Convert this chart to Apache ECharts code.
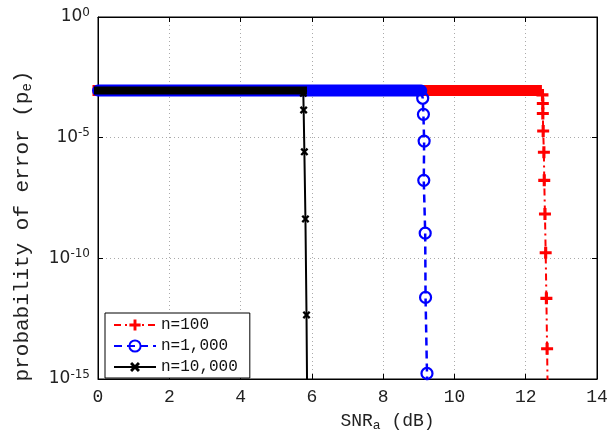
<!DOCTYPE html>
<html>
<head>
<meta charset="utf-8">
<script src="https://cdn.jsdelivr.net/npm/echarts@6/dist/echarts.min.js"></script>
<style>html,body{margin:0;padding:0;background:#fff;}#c{width:611px;height:439px;}</style>
</head>
<body>
<div id="c"></div>
<script>
// ---- data ----
const seriesNames = ['n=100', 'n=1,000', 'n=10,000'];
const xTicks = [0, 2, 4, 6, 8, 10, 12, 14];
const yTickExponents = [-15, -10, -5, 0];

// n=100 : first two points = flat part, rest = fall-off
const n100X = [0, 12.30, 12.44, 12.47, 12.48, 12.48, 12.49, 12.51, 12.52, 12.54, 12.56, 12.58, 12.60, 12.62];
const n100Y = [8.9e-4, 8.9e-4, 8.0e-4, 5.9e-4, 2.6e-4, 1.0e-4, 1.9e-5, 2.5e-6, 1.7e-7, 6.9e-9, 1.7e-10, 2.2e-12, 1.8e-14, 1e-16];
// n=1,000
const n1000X = [0, 9.07, 9.11, 9.13, 9.15, 9.14, 9.18, 9.19, 9.23, 9.25];
const n1000Y = [8.9e-4, 8.9e-4, 4.3e-4, 9.3e-5, 7.2e-6, 1.7e-7, 1.1e-9, 2.4e-12, 1.7e-15, 1e-16];
// n=10,000
const n10000X = [0, 5.75, 5.76, 5.77, 5.79, 5.82, 5.85, 5.87];
const n10000Y = [8.9e-4, 8.9e-4, 6.9e-4, 1.4e-4, 2.6e-6, 4.3e-9, 4.5e-13, 1e-16];

const pairs = (xs, ys) => xs.map((x, i) => [x, ys[i]]);
// drop part: markers hidden on the first `hide` points (they sit inside the flat band)
const dropData = (xs, ys, hide) => pairs(xs.slice(1), ys.slice(1))
  .map((p, i) => i < hide ? {value: p, symbol: 'none'} : p);

const PLUS = 'path://M3.7,0H6.3V3.7H10V6.3H6.3V10H3.7V6.3H0V3.7H3.7Z';
const MONO = 'Liberation Mono';

const chart = echarts.init(document.getElementById('c'), null, {renderer: 'canvas'});

function band(name, xs, ys, color, width, cap, z) {
  return {
    name: name, type: 'line', data: pairs(xs.slice(0, 2), ys.slice(0, 2)),
    symbol: 'none', silent: true, clip: false, z: z,
    lineStyle: {color: color, width: width, cap: cap, type: 'solid'},
    itemStyle: {color: color}
  };
}

const gridLine = {color: '#aaa', type: [1, 3], width: 1};

const option = {
  animation: false,
  backgroundColor: '#fff',
  grid: {left: 98, right: 14, top: 17, bottom: 60, show: true, borderColor: '#000', borderWidth: 1, backgroundColor: 'transparent'},
  legend: {
    data: seriesNames,
    orient: 'vertical', left: 105, top: 313,
    padding: [4, 12, 3, 8], itemGap: 5, itemWidth: 42, itemHeight: 14,
    borderColor: '#000', borderWidth: 1, backgroundColor: '#fff',
    textStyle: {fontFamily: MONO, fontSize: 16, color: '#111'},
    itemTextGap: 5
  },
  xAxis: [{
    type: 'value', min: 0, max: 14, interval: 2, position: 'bottom',
    axisLine: {show: true, onZero: false, lineStyle: {color: '#000', width: 1}},
    axisTick: {show: true, inside: true, length: 5, lineStyle: {color: '#000'}},
    axisLabel: {fontFamily: MONO, fontSize: 18, color: '#222', margin: 9,
      formatter: v => xTicks.indexOf(v) >= 0 ? String(v) : ''},
    splitLine: {show: true, lineStyle: gridLine},
    name: 'SNR{sub|a} (dB)', nameLocation: 'middle', nameGap: 32,
    nameTextStyle: {fontFamily: MONO, fontSize: 18, color: '#222', padding: [0, 0, 0, 80],
      rich: {sub: {fontFamily: MONO, fontSize: 13, color: '#222', verticalAlign: 'bottom', padding: [8, 0, 0, 0]}}}
  }, {
    type: 'value', min: 0, max: 14, interval: 2, position: 'top',
    axisLine: {show: true, onZero: false, lineStyle: {color: '#000'}},
    axisTick: {show: true, inside: true, length: 5, lineStyle: {color: '#000'}},
    axisLabel: {show: false}, splitLine: {show: false}
  }],
  yAxis: [{
    type: 'log', logBase: 10, min: 1e-15, max: 1, interval: 5, position: 'left',
    axisLine: {show: true, onZero: false, lineStyle: {color: '#000', width: 1}},
    axisTick: {show: true, inside: true, length: 5, lineStyle: {color: '#000'}},
    axisLabel: {fontFamily: 'DejaVu Sans', fontSize: 17, color: '#222', margin: 8,
      formatter: v => {
        const e = Math.round(Math.log10(v));
        return yTickExponents.indexOf(e) >= 0 ? '10{sup|' + e + '}' : '';
      },
      rich: {sup: {fontFamily: 'DejaVu Sans', fontSize: 12, color: '#222', verticalAlign: 'top', padding: [0, 0, 9, 0]}}},
    splitLine: {show: true, lineStyle: gridLine},
    minorTick: {show: false},
    name: 'probability of error (p{sub|e})', nameLocation: 'middle', nameGap: 64, nameRotate: 90,
    nameTextStyle: {fontFamily: MONO, fontSize: 21, color: '#222', padding: [0, 56, 0, 0],
      rich: {sub: {fontFamily: MONO, fontSize: 14, color: '#222', verticalAlign: 'bottom', padding: [9, 0, 0, 0]}}}
  }, {
    type: 'log', logBase: 10, min: 1e-15, max: 1, interval: 5, position: 'right',
    axisLine: {show: true, onZero: false, lineStyle: {color: '#000'}},
    axisTick: {show: true, inside: true, length: 5, lineStyle: {color: '#000'}},
    axisLabel: {show: false}, splitLine: {show: false}
  }],
  series: [
    band('band100', n100X, n100Y, '#ff0000', 11, 'square', 2),
    band('band1000', n1000X, n1000Y, '#0000ff', 12, 'round', 3),
    band('band10000', n10000X, n10000Y, '#000000', 8, 'square', 4),
    {
      name: seriesNames[0], type: 'line', z: 5, clip: true,
      data: dropData(n100X, n100Y, 2),
      symbol: PLUS, symbolSize: 12,
      lineStyle: {color: '#ff0000', width: 2, type: [7, 4, 2, 4]},
      itemStyle: {color: '#ff0000'}
    },
    {
      name: seriesNames[1], type: 'line', z: 6, clip: true,
      data: dropData(n1000X, n1000Y, 1),
      symbol: 'circle', symbolSize: 11,
      lineStyle: {color: '#0000ff', width: 2.5, type: [8, 5]},
      itemStyle: {color: 'rgba(0,0,0,0)', borderColor: '#0000ff', borderWidth: 2.2}
    },
    {
      name: seriesNames[2], type: 'line', z: 7, clip: true,
      data: dropData(n10000X, n10000Y, 1),
      symbol: PLUS, symbolSize: 9, symbolRotate: 45,
      lineStyle: {color: '#000000', width: 2, type: 'solid'},
      itemStyle: {color: '#000000'}
    }
  ]
};
chart.setOption(option);
</script>
</body>
</html>
